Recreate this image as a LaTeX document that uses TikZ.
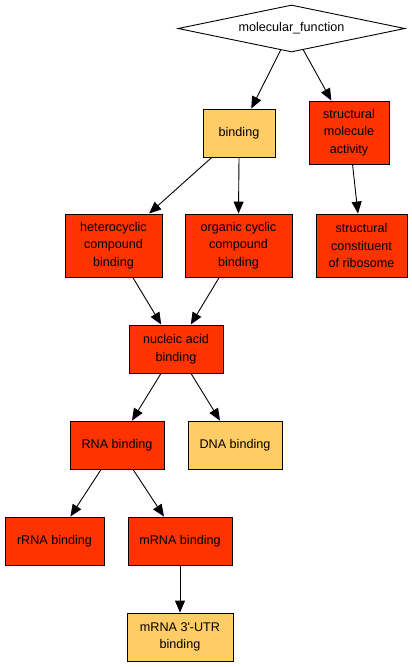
\documentclass[tikz,border=0pt]{standalone}
\usepackage{fontspec}
\setmainfont{Liberation Sans}
\usetikzlibrary{shapes.geometric,arrows.meta}
\definecolor{hot}{HTML}{FF3300}
\definecolor{warm}{HTML}{FFCC66}
\begin{document}
\begin{tikzpicture}[x=1pt,y=-1pt,
  every node/.style={font=\fontsize{12.6}{17.5}\selectfont, align=center, inner sep=0pt},
  term/.style={rectangle, draw=black, line width=0.9pt},
  hotbox/.style={term, fill=hot},
  warmbox/.style={term, fill=warm},
  edge/.style={draw=black, line width=0.9pt, -{Triangle[length=12pt,width=10pt]}}]
\useasboundingbox (0,0) rectangle (412,667);
\fill[white] (0,0) rectangle (412,667);
\node[diamond, draw=black, line width=0.9pt, fill=white, aspect=4.8, minimum width=227pt, minimum height=47pt] (mf) at (291.5,28.5) {molecular\_function};
\node[warmbox, minimum width=72pt, minimum height=48pt] (bind) at (239,133) {binding};
\node[hotbox, minimum width=80pt, minimum height=63pt] (sma) at (349,132.5) {structural\\molecule\\activity};
\node[hotbox, minimum width=97pt, minimum height=63pt] (het) at (113.5,245.5) {heterocyclic\\compound\\binding};
\node[hotbox, minimum width=107pt, minimum height=63pt] (org) at (238.5,245.5) {organic cyclic\\compound\\binding};
\node[hotbox, minimum width=91pt, minimum height=63pt] (scr) at (361.5,245.5) {structural\\constituent\\of ribosome};
\node[hotbox, minimum width=94pt, minimum height=48pt] (nab) at (176,349) {nucleic acid\\binding};
\node[hotbox, minimum width=94pt, minimum height=48pt] (rna) at (117,445) {RNA binding};
\node[warmbox, minimum width=94pt, minimum height=48pt] (dna) at (235,445) {DNA binding};
\node[hotbox, minimum width=99pt, minimum height=48pt] (rrna) at (54.5,541) {rRNA binding};
\node[hotbox, minimum width=104pt, minimum height=48pt] (mrna) at (180,541) {mRNA binding};
\node[warmbox, minimum width=106pt, minimum height=48pt] (utr) at (180,637) {mRNA 3\textquotesingle-UTR\\binding};
\draw[edge] (mf) -- (bind);
\draw[edge] (mf) -- (sma);
\draw[edge] (bind) -- (het);
\draw[edge] (bind.south) -- (org.north);
\draw[edge] (sma) -- (scr);
\draw[edge] (het) -- (nab);
\draw[edge] (org) -- (nab);
\draw[edge] (nab) -- (rna);
\draw[edge] (nab) -- (dna);
\draw[edge] (rna) -- (rrna);
\draw[edge] (rna) -- (mrna);
\draw[edge] (mrna) -- (utr);
\end{tikzpicture}
\end{document}
